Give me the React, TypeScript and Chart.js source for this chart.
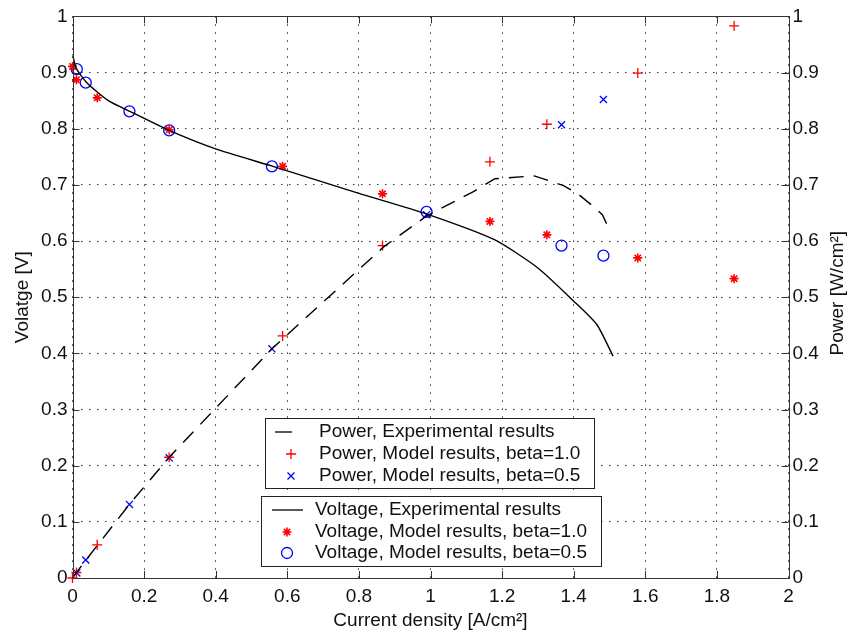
import React, { useEffect, useRef } from 'react';
import { Chart, registerables } from 'chart.js';

Chart.register(...registerables);

const FONT = '"Liberation Sans", Arial, Helvetica, sans-serif';

// Tick labels
const xTickLabels = ['0', '0.2', '0.4', '0.6', '0.8', '1', '1.2', '1.4', '1.6', '1.8', '2'];
const yTickLabels = ['0', '0.1', '0.2', '0.3', '0.4', '0.5', '0.6', '0.7', '0.8', '0.9', '1'];

// Voltage, experimental (solid line)
const voltExpCurrent = [0, 0.01, 0.04, 0.1, 0.16, 0.27, 0.4, 0.56, 0.8, 0.99, 1.18, 1.3, 1.4, 1.465, 1.51];
const voltExpValue = [0.933, 0.908, 0.882, 0.85, 0.831, 0.797, 0.764, 0.733, 0.685, 0.648, 0.602, 0.552, 0.493, 0.451, 0.395];

// Power, experimental (dashed line)
const powExpCurrent = [0, 0.01, 0.04, 0.16, 0.27, 0.56, 0.87, 0.99, 1.12, 1.18, 1.29, 1.37, 1.41, 1.45, 1.48, 1.5];
const powExpValue = [0, 0.009, 0.034, 0.132, 0.215, 0.41, 0.59, 0.645, 0.688, 0.711, 0.716, 0.699, 0.685, 0.664, 0.647, 0.62];

// Model results, beta = 1.0
const beta10Current = [0, 0.011, 0.069, 0.27, 0.587, 0.866, 1.166, 1.325, 1.579, 1.848];
const voltBeta10 = [0.911, 0.887, 0.855, 0.798, 0.733, 0.684, 0.635, 0.611, 0.57, 0.533];
const powBeta10 = [0, 0.0098, 0.059, 0.215, 0.431, 0.592, 0.741, 0.808, 0.899, 0.983];

// Model results, beta = 0.5
const beta05Current = [0.012, 0.037, 0.159, 0.27, 0.557, 0.989, 1.366, 1.483];
const voltBeta05 = [0.906, 0.882, 0.831, 0.797, 0.733, 0.652, 0.592, 0.574];
const powBeta05 = [0.009, 0.032, 0.131, 0.214, 0.408, 0.647, 0.807, 0.852];

const pts = (xs: number[], ys: number[]) => xs.map((x, i) => ({ x, y: ys[i] }));

const RED = 'rgb(255,0,0)';
const BLUE = 'rgb(0,0,255)';

function drawMarker(ctx: CanvasRenderingContext2D, kind: string, x: number, y: number) {
  ctx.save();
  ctx.beginPath();
  if (kind === 'plus') {
    ctx.strokeStyle = RED; ctx.lineWidth = 1.3;
    ctx.moveTo(x - 5, y); ctx.lineTo(x + 5, y); ctx.moveTo(x, y - 5); ctx.lineTo(x, y + 5);
  } else if (kind === 'x') {
    ctx.strokeStyle = BLUE; ctx.lineWidth = 1.3;
    ctx.moveTo(x - 3.5, y - 3.5); ctx.lineTo(x + 3.5, y + 3.5); ctx.moveTo(x - 3.5, y + 3.5); ctx.lineTo(x + 3.5, y - 3.5);
  } else if (kind === 'star') {
    ctx.strokeStyle = RED; ctx.lineWidth = 1.6;
    const r = 4.5, d = r * 0.7071;
    ctx.moveTo(x - r, y); ctx.lineTo(x + r, y); ctx.moveTo(x, y - r); ctx.lineTo(x, y + r);
    ctx.moveTo(x - d, y - d); ctx.lineTo(x + d, y + d); ctx.moveTo(x - d, y + d); ctx.lineTo(x + d, y - d);
  } else if (kind === 'circle') {
    ctx.strokeStyle = BLUE; ctx.lineWidth = 1.3;
    ctx.arc(x, y, 5.5, 0, Math.PI * 2);
  }
  ctx.stroke();
  ctx.restore();
}

const framePlugin = {
  id: 'frameAndLegend',
  afterDraw(chart: any) {
    const ctx: CanvasRenderingContext2D = chart.ctx;
    const { left, right, top, bottom } = chart.chartArea;
    const xs = chart.scales.x;
    const ys = chart.scales.y;
    ctx.save();
    // frame
    ctx.strokeStyle = '#333';
    ctx.lineWidth = 1;
    ctx.strokeRect(Math.round(left) + 0.5, Math.round(top) + 0.5, Math.round(right - left), Math.round(bottom - top));
    // inner tick marks
    ctx.beginPath();
    xs.ticks.forEach((t: any) => {
      const px = Math.round(xs.getPixelForValue(t.value)) + 0.5;
      ctx.moveTo(px, bottom); ctx.lineTo(px, bottom - 7);
      ctx.moveTo(px, top); ctx.lineTo(px, top + 7);
    });
    ys.ticks.forEach((t: any) => {
      const py = Math.round(ys.getPixelForValue(t.value)) + 0.5;
      ctx.moveTo(left, py); ctx.lineTo(left + 7, py);
      ctx.moveTo(right, py); ctx.lineTo(right - 7, py);
    });
    ctx.stroke();

    // right axis title, reading bottom-to-top
    ctx.save();
    ctx.font = `19px ${FONT}`;
    ctx.fillStyle = '#111';
    ctx.textAlign = 'center';
    ctx.textBaseline = 'middle';
    ctx.translate(838, (top + bottom) / 2 - 4);
    ctx.rotate(-Math.PI / 2);
    ctx.fillText('Power [W/cm²]', 0, 0);
    ctx.restore();

    // legends
    ctx.font = `19px ${FONT}`;
    ctx.textBaseline = 'middle';
    ctx.textAlign = 'left';
    // box 1 (power)
    ctx.fillStyle = '#fff';
    ctx.fillRect(265.5, 418.5, 329, 70);
    ctx.strokeStyle = '#222';
    ctx.lineWidth = 1;
    ctx.strokeRect(265.5, 418.5, 329, 70);
    ctx.fillStyle = '#111';
    ctx.fillText('Power, Experimental results', 319, 432);
    ctx.fillText('Power, Model results, beta=1.0', 319, 454);
    ctx.fillText('Power, Model results, beta=0.5', 319, 476);
    ctx.beginPath();
    ctx.strokeStyle = '#000'; ctx.lineWidth = 1.3;
    ctx.moveTo(275, 432); ctx.lineTo(292, 432);
    ctx.stroke();
    drawMarker(ctx, 'plus', 291, 454);
    drawMarker(ctx, 'x', 291, 476);
    // box 2 (voltage)
    ctx.fillStyle = '#fff';
    ctx.fillRect(261.5, 496.5, 340, 70);
    ctx.strokeStyle = '#222';
    ctx.lineWidth = 1;
    ctx.strokeRect(261.5, 496.5, 340, 70);
    ctx.fillStyle = '#111';
    ctx.fillText('Voltage, Experimental results', 315, 510);
    ctx.fillText('Voltage, Model results, beta=1.0', 315, 532);
    ctx.fillText('Voltage, Model results, beta=0.5', 315, 553);
    ctx.beginPath();
    ctx.strokeStyle = '#000'; ctx.lineWidth = 1.3;
    ctx.moveTo(272, 510); ctx.lineTo(303, 510);
    ctx.stroke();
    drawMarker(ctx, 'star', 287, 532);
    drawMarker(ctx, 'circle', 287, 553);
    ctx.restore();
  },
};

export default function App() {
  const ref = useRef<HTMLCanvasElement | null>(null);

  useEffect(() => {
    document.body.style.margin = '0';
    const canvas = ref.current;
    if (!canvas) return;
    const tickFont = { family: FONT, size: 19 };
    const titleFont = { family: FONT, size: 19, lineHeight: 1 };
    const gridOpts = { color: 'rgba(0,0,0,0.8)', lineWidth: 1, drawTicks: false };
    const chart = new Chart(canvas, {
      type: 'scatter',
      data: {
        datasets: [
          {
            label: 'Voltage, Experimental results',
            data: pts(voltExpCurrent, voltExpValue),
            showLine: true,
            borderColor: '#000',
            borderWidth: 1.4,
            pointRadius: 0,
            yAxisID: 'y',
            tension: 0.2,
          },
          {
            label: 'Power, Experimental results',
            data: pts(powExpCurrent, powExpValue),
            showLine: true,
            borderColor: '#000',
            borderWidth: 1.4,
            borderDash: [15, 10],
            pointRadius: 0,
            yAxisID: 'y2',
            tension: 0,
          },
          {
            label: 'Voltage, Model results, beta=1.0',
            data: pts(beta10Current, voltBeta10),
            pointStyle: 'star',
            pointRadius: 4.5,
            borderColor: RED,
            backgroundColor: RED,
            pointBorderWidth: 1.6,
            yAxisID: 'y',
            clip: false,
          },
          {
            label: 'Voltage, Model results, beta=0.5',
            data: pts(beta05Current, voltBeta05),
            pointStyle: 'circle',
            pointRadius: 5.5,
            borderColor: BLUE,
            backgroundColor: 'rgba(0,0,0,0)',
            pointBorderWidth: 1.3,
            yAxisID: 'y',
            clip: false,
          },
          {
            label: 'Power, Model results, beta=1.0',
            data: pts(beta10Current, powBeta10),
            pointStyle: 'cross',
            pointRadius: 5,
            borderColor: RED,
            backgroundColor: RED,
            pointBorderWidth: 1.3,
            yAxisID: 'y2',
            clip: false,
          },
          {
            label: 'Power, Model results, beta=0.5',
            data: pts(beta05Current, powBeta05),
            pointStyle: 'crossRot',
            pointRadius: 5,
            borderColor: BLUE,
            backgroundColor: BLUE,
            pointBorderWidth: 1.3,
            yAxisID: 'y2',
            clip: false,
          },
        ],
      },
      options: {
        animation: false,
        responsive: false,
        maintainAspectRatio: false,
        layout: { padding: { top: 14, left: 0, right: 0, bottom: 0 } },
        plugins: {
          legend: { display: false },
          tooltip: { enabled: false },
        },
        scales: {
          x: {
            type: 'linear',
            position: 'bottom',
            min: 0,
            max: 2,
            ticks: {
              stepSize: 0.2,
              padding: 7,
              font: tickFont,
              color: '#111',
              maxRotation: 0,
              autoSkip: false,
              callback: (_v: any, i: number) => xTickLabels[i],
            },
            grid: gridOpts,
            border: { display: false, dash: [1.5, 6.5] },
            title: {
              display: true,
              text: 'Current density [A/cm²]',
              font: titleFont,
              color: '#111',
              padding: { top: 0, bottom: 3 },
            },
            afterFit: (s: any) => { s.height = 55; },
          },
          y: {
            type: 'linear',
            position: 'left',
            min: 0,
            max: 1,
            ticks: {
              stepSize: 0.1,
              padding: 5,
              font: tickFont,
              color: '#111',
              autoSkip: false,
              callback: (_v: any, i: number) => yTickLabels[i],
            },
            grid: gridOpts,
            border: { display: false, dash: [1.5, 6.5] },
            title: {
              display: true,
              text: 'Volatge [V]',
              font: titleFont,
              color: '#111',
              padding: { top: 13, bottom: 0 },
            },
            afterFit: (s: any) => { s.width = 72.5; },
          },
          y2: {
            type: 'linear',
            position: 'right',
            min: 0,
            max: 1,
            ticks: {
              stepSize: 0.1,
              padding: 4,
              font: tickFont,
              color: '#111',
              autoSkip: false,
              callback: (_v: any, i: number) => yTickLabels[i],
            },
            grid: { display: false, drawTicks: false },
            border: { display: false },
            title: { display: false },
            afterFit: (s: any) => { s.width = 59.5; },
          },
        },
      },
      plugins: [framePlugin],
    } as any);
    return () => chart.destroy();
  }, []);

  return (
    <div style={{ position: 'absolute', left: 0, top: 0, width: 848, height: 633, background: '#fff' }}>
      <canvas ref={ref} width={848} height={633} style={{ display: 'block' }} />
    </div>
  );
}
